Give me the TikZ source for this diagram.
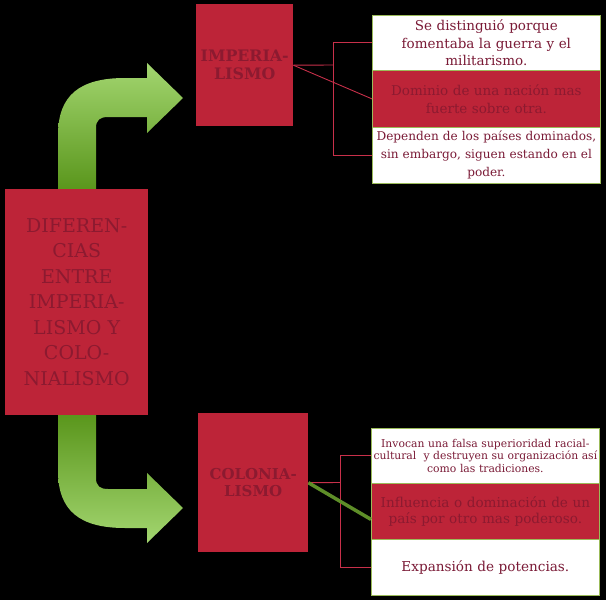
\documentclass[tikz,border=0pt]{standalone}
\usepackage{fontspec}
\setmainfont{DejaVu Serif}
\usetikzlibrary{calc}
\definecolor{boxred}{HTML}{BD2438}
\definecolor{txtred}{HTML}{8C1A30}
\definecolor{txtmaroon}{HTML}{7A1A36}
\definecolor{linkred}{HTML}{C8304A}
\definecolor{bordergreen}{HTML}{9BBB59}
\definecolor{lightgreen}{HTML}{A3D670}
\definecolor{darkgreen}{HTML}{5A961C}
\definecolor{olivegreen}{HTML}{5E8E28}
\begin{document}
\begin{tikzpicture}[x=1pt,y=-1pt,
  redbox/.style={fill=boxred, draw=none, inner sep=0pt, anchor=north west, align=center, text=txtred},
  whitebox/.style={fill=white, draw=bordergreen, line width=0.8pt, inner sep=0pt, anchor=north west, align=center, text=txtmaroon, minimum width=228pt},
  redlist/.style={fill=boxred, draw=bordergreen, line width=0.8pt, inner sep=0pt, anchor=north west, align=center, text=txtred, minimum width=228pt},
  link/.style={draw=linkred, line width=0.9pt},
  greenlink/.style={draw=olivegreen, line width=3.5pt}
]
\useasboundingbox (0,0) rectangle (606,600);
\fill[black] (0,0) rectangle (606,600);

% green arrows
\shade[top color=lightgreen, bottom color=darkgreen]
  (58,189) -- (58,135) .. controls (58,95) and (80,78) .. (125,78) -- (147,78) -- (147,63) -- (183,98) -- (147,133) -- (147,117) -- (108,117) .. controls (100,117) and (96,120) .. (96,128) -- (96,189) -- cycle;
\shade[top color=darkgreen, bottom color=lightgreen]
  (58,415) -- (58,471) .. controls (58,511) and (80,528) .. (125,528) -- (147,528) -- (147,543) -- (183,508) -- (147,473) -- (147,489) -- (108,489) .. controls (100,489) and (96,486) .. (96,478) -- (96,415) -- cycle;

% main boxes
\node[redbox, minimum width=143pt, minimum height=226pt, text width=140pt,
  font=\fontsize{19}{25.5}\selectfont] (main) at (5,189)
  {DIFEREN-\\CIAS\\ENTRE\\IMPERIA-\\LISMO Y\\COLO-\\NIALISMO};
\node[redbox, minimum width=97pt, minimum height=122pt, text width=95pt,
  font=\bfseries\fontsize{15.8}{19}\selectfont] (imp) at (196,4)
  {IMPERIA-\\[-1pt]LISMO};
\node[redbox, minimum width=110pt, minimum height=139pt, text width=108pt,
  font=\bfseries\fontsize{15}{17.5}\selectfont] (col) at (198,413)
  {COLONIA-\\LISMO};

% top list
\node[whitebox, minimum height=55pt, text width=226pt, font=\fontsize{13.5}{17.5}\selectfont] (t1) at (372,15)
  {Se distinguió porque\\fomentaba la guerra y el\\militarismo.};
\node[redlist, minimum height=57pt, text width=226pt, font=\fontsize{13.5}{18}\selectfont] (t2) at (372,70)
  {Dominio de una nación mas\\fuerte sobre otra.};
\node[whitebox, minimum height=56pt, text width=226pt, font=\fontsize{12.1}{18}\selectfont] (t3) at (372,127)
  {Dependen de los países dominados,\\sin embargo, siguen estando en el\\poder.};

% bottom list
\node[whitebox, minimum height=55pt, text width=226pt, font=\fontsize{10.8}{12.5}\selectfont] (b1) at (371,428)
  {Invocan una falsa superioridad racial-\\cultural\ \ y destruyen su organización así\\como las tradiciones.};
\node[redlist, minimum height=56pt, text width=226pt, font=\fontsize{13.6}{16}\selectfont] (b2) at (371,483)
  {Influencia o dominación de un\\país por otro mas poderoso.};
\node[whitebox, minimum height=56pt, text width=226pt, font=\fontsize{13.6}{18}\selectfont] (b3) at (371,539)
  {Expansión de potencias.};

% connectors top
\coordinate (tb) at (333,65);
\draw[link] (imp.east) -- (tb);
\draw[link] (t1.west) -| (tb);
\draw[link] (t3.west) -| (tb);
\draw[link] (imp.east) -- (t2.west);

% connectors bottom
\coordinate (cb) at (340,482.5);
\draw[link] (col.east) -- (cb);
\draw[link] (b1.west) -| (cb);
\draw[link] (b3.west) -| (cb);
\draw[greenlink] (col.east) -- ($(b2.west)+(0,8)$);
\end{tikzpicture}
\end{document}
